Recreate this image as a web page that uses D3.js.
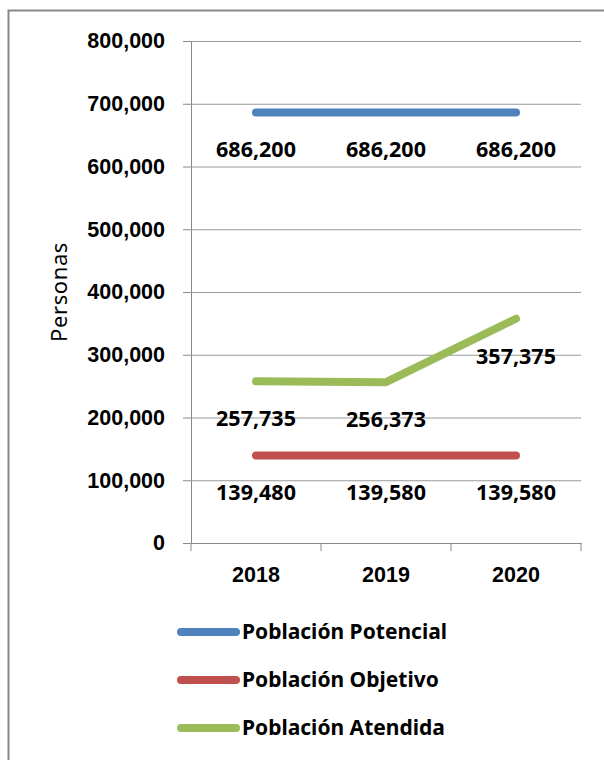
<!DOCTYPE html>
<html>
<head>
<meta charset="utf-8">
<script src="https://cdn.jsdelivr.net/npm/d3@7"></script>
<style>
  body { margin: 0; background: #fff; }
  svg { font-family: "Noto Sans", "Open Sans", sans-serif; }
</style>
</head>
<body>
<div id="chart"></div>
<script>
// chart data
let years = ["2018", "2019", "2020"];
let seriesNames = ["Población Potencial", "Población Objetivo", "Población Atendida"];
let potencial = [686200, 686200, 686200];
let objetivo = [139480, 139580, 139580];
let atendida = [257735, 256373, 357375];
let yTicks = [0, 100000, 200000, 300000, 400000, 500000, 600000, 700000, 800000];
let colors = ["#4F81BD", "#C0504D", "#9BBB59"];

draw_chart();

function draw_chart() {
  var width = 604;
  var height = 760;
  var margin = { top: 41, left: 191, right: 23, bottom: 217 };
  var fontSize = 21.5;

  var svg = d3
    .select("#chart")
    .append("svg")
    .attr("width", width)
    .attr("height", height);

  // outer frame
  svg
    .append("rect")
    .attr("x", 8.5)
    .attr("y", 10.5)
    .attr("width", 620)
    .attr("height", 800)
    .attr("fill", "none")
    .attr("stroke", "#888")
    .attr("stroke-width", 2);

  var x = d3
    .scaleBand()
    .domain(years)
    .range([margin.left, width - margin.right]);

  var y = d3
    .scaleLinear()
    .domain([0, 800000])
    .range([height - margin.bottom, margin.top]);

  var fmt = d3.format(",");

  // gridlines + y axis
  var yAxis = svg
    .append("g")
    .attr("transform", "translate(" + margin.left + ",0)")
    .call(
      d3
        .axisLeft(y)
        .tickValues(yTicks)
        .tickFormat(fmt)
        .tickSize(8)
        .tickPadding(18)
    );
  yAxis.select(".domain").attr("stroke", "#888");
  yAxis.selectAll(".tick line").attr("stroke", "#888");
  yAxis
    .selectAll(".tick text")
    .attr("font-size", fontSize)
    .attr("font-weight", "bold")
    .attr("fill", "#000");
  yAxis
    .selectAll(".tick")
    .filter(function (d) { return d > 0; })
    .append("line")
    .attr("x1", 0)
    .attr("x2", width - margin.right - margin.left)
    .attr("stroke", "#999");

  // x axis
  var xAxis = svg
    .append("g")
    .attr("transform", "translate(0," + (height - margin.bottom) + ")")
    .call(d3.axisBottom(x).tickSize(0).tickPadding(24));
  xAxis.select(".domain").attr("stroke", "#888");
  xAxis
    .selectAll(".tick text")
    .attr("font-size", fontSize)
    .attr("font-weight", "bold")
    .attr("fill", "#000");
  // tick marks at category boundaries
  xAxis
    .selectAll(".bound")
    .data(years.concat(["end"]))
    .enter()
    .append("line")
    .attr("x1", function (d, i) { return margin.left + i * x.step(); })
    .attr("x2", function (d, i) { return margin.left + i * x.step(); })
    .attr("y1", 0)
    .attr("y2", 8)
    .attr("stroke", "#888");

  var allSeries = [potencial, objetivo, atendida];

  var line = d3
    .line()
    .x(function (d, i) { return x(years[i]) + x.bandwidth() / 2; })
    .y(function (d) { return y(d); });

  allSeries.forEach(function (s, k) {
    svg
      .append("path")
      .datum(s)
      .attr("d", line)
      .attr("fill", "none")
      .attr("stroke", colors[k])
      .attr("stroke-width", 8)
      .attr("stroke-linecap", "round")
      .attr("stroke-linejoin", "round");
  });

  // data labels below points
  allSeries.forEach(function (s, k) {
    svg
      .append("g")
      .selectAll("text")
      .data(s)
      .enter()
      .append("text")
      .attr("x", function (d, i) { return x(years[i]) + x.bandwidth() / 2; })
      .attr("y", function (d) { return y(d) + 45; })
      .attr("text-anchor", "middle")
      .attr("font-size", fontSize)
      .attr("font-weight", "bold")
      .attr("fill", "#000")
      .text(fmt);
  });

  // y axis title
  svg
    .append("text")
    .attr("transform", "translate(67,292) rotate(-90)")
    .attr("text-anchor", "middle")
    .attr("font-size", 22)
    .attr("letter-spacing", 0.6)
    .attr("fill", "#000")
    .text("Personas");

  // legend
  var legend = svg
    .append("g")
    .selectAll("g")
    .data(seriesNames)
    .enter()
    .append("g")
    .attr("transform", function (d, i) { return "translate(0," + (632 + i * 48) + ")"; });
  legend
    .append("line")
    .attr("x1", 181)
    .attr("x2", 236)
    .attr("stroke", function (d, i) { return colors[i]; })
    .attr("stroke-width", 8)
    .attr("stroke-linecap", "round");
  legend
    .append("text")
    .attr("x", 242)
    .attr("dy", "0.35em")
    .attr("font-size", 21)
    .attr("font-weight", "bold")
    .attr("fill", "#000")
    .text(function (d) { return d; });
}
</script>
</body>
</html>
